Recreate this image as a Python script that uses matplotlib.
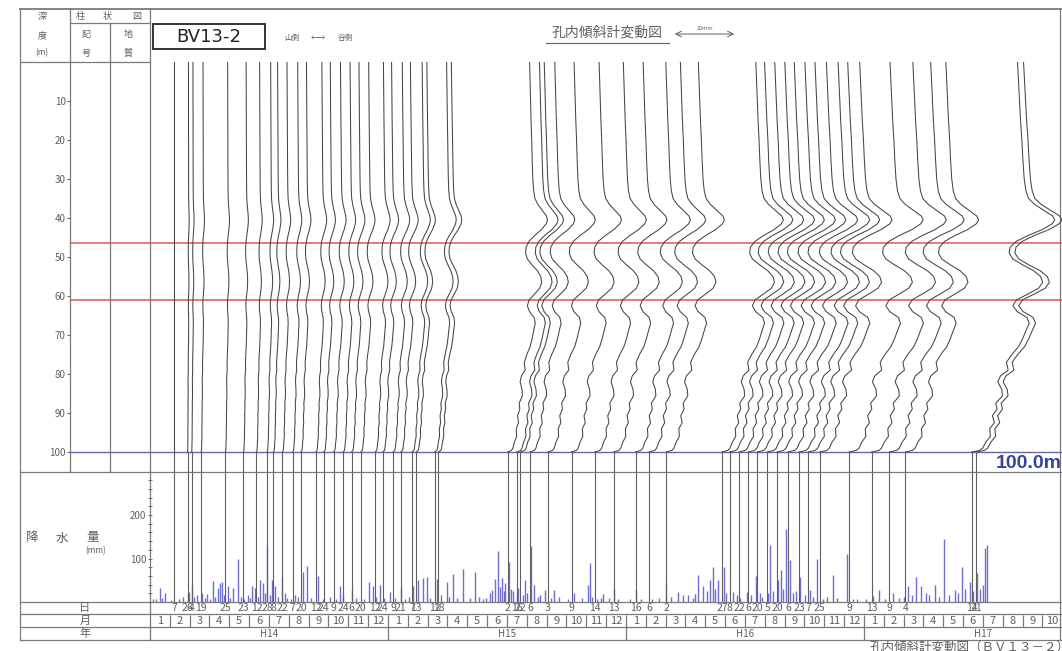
import calendar

import matplotlib
matplotlib.use("Agg")
import matplotlib.pyplot as plt
from matplotlib.patches import Rectangle
from matplotlib.ticker import MultipleLocator

plt.rcParams['font.family'] = ['Noto Sans CJK JP', 'DejaVu Sans']

# survey dates (Heisei year, month, day)
survey_dates = [
    (14, 2, 7), (14, 2, 26), (14, 3, 4), (14, 3, 19), (14, 4, 25), (14, 5, 23),
    (14, 6, 12), (14, 6, 28), (14, 7, 8), (14, 7, 22), (14, 8, 7), (14, 8, 20),
    (14, 9, 12), (14, 9, 24), (14, 10, 9), (14, 10, 24), (14, 11, 6), (14, 11, 20),
    (14, 12, 12), (14, 12, 24),
    (15, 1, 9), (15, 1, 21), (15, 2, 7), (15, 2, 13), (15, 3, 12), (15, 3, 18),
    (15, 7, 2), (15, 7, 16), (15, 7, 22), (15, 8, 6), (15, 9, 3), (15, 10, 9),
    (15, 11, 14), (15, 12, 13),
    (16, 1, 16), (16, 2, 6), (16, 3, 2), (16, 5, 27), (16, 6, 8), (16, 6, 22),
    (16, 7, 6), (16, 7, 20), (16, 8, 5), (16, 8, 20), (16, 9, 6), (16, 9, 23),
    (16, 10, 7), (16, 10, 25), (16, 12, 9),
    (17, 1, 13), (17, 2, 9), (17, 3, 4), (17, 6, 14), (17, 6, 21),
]
# deformation of each survey relative to the last one
survey_level = [
    0.0, 0.02, 0.03, 0.04, 0.05, 0.06, 0.07, 0.08, 0.09, 0.10, 0.11, 0.12,
    0.13, 0.14, 0.15, 0.15, 0.16, 0.17, 0.18, 0.19,
    0.20, 0.21, 0.22, 0.23, 0.26, 0.28,
    0.48, 0.50, 0.52, 0.54, 0.57, 0.60, 0.62, 0.64,
    0.66, 0.68, 0.70, 0.74, 0.76, 0.78, 0.80, 0.81, 0.82, 0.83, 0.84, 0.85,
    0.86, 0.87, 0.89,
    0.90, 0.90, 0.88, 1.0, 1.03,
]

# cumulative displacement of the latest survey (mm, valley side positive)
profile_depth = [0, 5, 10, 15, 20, 25, 30, 33, 35, 36.5, 38, 39.5, 40.5, 41.5,
                 43, 44.5, 46, 47.5, 49, 50.5, 52, 53.5, 55, 56.5, 58, 59.5,
                 61, 62.5, 64, 65.5, 67, 68.5, 71, 73, 75, 77, 79, 80.5, 82,
                 84, 85.6, 87.5, 89, 90.7, 92.5, 94, 96, 97.5, 99, 99.6, 100]
profile_disp = [13.7, 14.0, 14.3, 14.6, 15.0, 15.3, 15.7, 16.2, 17.0, 18.8,
                21.5, 24.2, 24.8, 24.0, 21.0, 16.8, 13.3, 11.5, 11.2, 12.3,
                15.2, 18.5, 20.6, 21.2, 20.0, 16.8, 13.4, 12.3, 13.6, 16.5,
                17.2, 16.4, 15.2, 14.0, 12.0, 10.4, 10.9, 8.6, 7.8, 9.0, 9.2,
                7.2, 7.6, 6.2, 6.8, 5.4, 5.6, 4.2, 3.3, 2.4, 0.0]

# daily rainfall (Heisei year, month, day, mm)
rainfall = [
    (14, 1, 5, 8), (14, 1, 10, 6), (14, 1, 16, 32), (14, 1, 20, 10),
    (14, 1, 25, 20), (14, 2, 3, 5), (14, 2, 14, 8), (14, 2, 20, 12),
    (14, 2, 26, 15), (14, 2, 28, 24), (14, 3, 4, 39), (14, 3, 8, 12),
    (14, 3, 12, 15), (14, 3, 21, 20), (14, 3, 25, 10), (14, 3, 28, 19),
    (14, 4, 2, 8), (14, 4, 6, 49), (14, 4, 10, 12), (14, 4, 14, 32),
    (14, 4, 17, 43), (14, 4, 20, 47), (14, 4, 23, 15), (14, 4, 29, 36),
    (14, 5, 2, 10), (14, 5, 7, 32), (14, 5, 14, 98), (14, 5, 19, 12),
    (14, 5, 24, 8), (14, 5, 30, 17), (14, 6, 2, 10), (14, 6, 5, 36),
    (14, 6, 10, 32), (14, 6, 14, 12), (14, 6, 17, 51), (14, 6, 22, 43),
    (14, 6, 25, 20), (14, 6, 28, 127), (14, 7, 2, 15), (14, 7, 5, 51),
    (14, 7, 10, 36), (14, 7, 15, 12), (14, 7, 21, 55), (14, 7, 26, 20),
    (14, 7, 29, 10), (14, 8, 4, 8), (14, 8, 10, 17), (14, 8, 15, 12),
    (14, 8, 23, 70), (14, 8, 29, 83), (14, 9, 5, 10), (14, 9, 15, 60),
    (14, 9, 22, 8), (14, 10, 4, 12), (14, 10, 12, 8), (14, 10, 19, 36),
    (14, 10, 23, 15), (14, 11, 6, 28), (14, 11, 12, 10), (14, 11, 25, 8),
    (14, 12, 2, 47), (14, 12, 8, 36), (14, 12, 14, 12), (14, 12, 19, 39),
    (14, 12, 26, 10),
    (15, 1, 4, 24), (15, 1, 12, 10), (15, 1, 22, 32), (15, 1, 28, 8),
    (15, 2, 3, 12), (15, 2, 8, 36), (15, 2, 15, 51), (15, 2, 22, 55),
    (15, 2, 28, 58), (15, 3, 5, 10), (15, 3, 15, 54), (15, 3, 22, 15),
    (15, 3, 31, 45), (15, 4, 4, 12), (15, 4, 10, 65), (15, 4, 16, 10),
    (15, 4, 24, 75), (15, 5, 5, 10), (15, 5, 13, 70), (15, 5, 20, 12),
    (15, 5, 25, 6), (15, 5, 31, 9), (15, 6, 5, 20), (15, 6, 9, 28),
    (15, 6, 13, 53), (15, 6, 17, 117), (15, 6, 20, 35), (15, 6, 23, 56),
    (15, 6, 26, 25), (15, 6, 28, 43), (15, 7, 4, 91), (15, 7, 8, 30),
    (15, 7, 11, 25), (15, 7, 16, 20), (15, 7, 19, 33), (15, 7, 26, 15),
    (15, 7, 29, 51), (15, 8, 2, 20), (15, 8, 7, 129), (15, 8, 13, 38),
    (15, 8, 18, 12), (15, 8, 22, 15), (15, 8, 29, 28), (15, 9, 8, 10),
    (15, 9, 12, 27), (15, 9, 20, 12), (15, 10, 3, 8), (15, 10, 13, 20),
    (15, 10, 25, 10), (15, 11, 3, 40), (15, 11, 6, 89), (15, 11, 10, 12),
    (15, 11, 18, 8), (15, 11, 23, 9), (15, 11, 27, 18), (15, 12, 6, 10),
    (15, 12, 13, 30), (15, 12, 20, 8),
    (16, 1, 8, 6), (16, 1, 16, 28), (16, 1, 25, 8), (16, 2, 10, 6),
    (16, 2, 20, 10), (16, 3, 1, 43), (16, 3, 10, 12), (16, 3, 20, 24),
    (16, 3, 28, 15), (16, 4, 5, 15), (16, 4, 12, 10), (16, 4, 16, 18),
    (16, 4, 20, 61), (16, 4, 27, 36), (16, 5, 3, 25), (16, 5, 8, 51),
    (16, 5, 13, 81), (16, 5, 17, 30), (16, 5, 21, 51), (16, 5, 31, 81),
    (16, 6, 3, 20), (16, 6, 13, 24), (16, 6, 19, 15), (16, 6, 24, 10),
    (16, 7, 5, 24), (16, 7, 10, 15), (16, 7, 19, 60), (16, 7, 25, 20),
    (16, 7, 28, 12), (16, 8, 6, 20), (16, 8, 9, 130), (16, 8, 14, 25),
    (16, 8, 21, 51), (16, 8, 27, 73), (16, 8, 30, 30), (16, 9, 3, 168),
    (16, 9, 9, 96), (16, 9, 14, 20), (16, 9, 18, 25), (16, 9, 24, 58),
    (16, 10, 2, 15), (16, 10, 9, 28), (16, 10, 14, 12), (16, 10, 21, 100),
    (16, 10, 30, 8), (16, 11, 5, 12), (16, 11, 14, 62), (16, 11, 20, 10),
    (16, 12, 5, 110), (16, 12, 15, 8), (16, 12, 22, 6),
    (17, 1, 5, 8), (17, 1, 15, 13), (17, 1, 25, 28), (17, 2, 3, 6),
    (17, 2, 14, 20), (17, 2, 22, 10), (17, 3, 2, 12), (17, 3, 8, 36),
    (17, 3, 14, 15), (17, 3, 21, 58), (17, 3, 29, 36), (17, 4, 5, 20),
    (17, 4, 10, 15), (17, 4, 18, 39), (17, 4, 25, 12), (17, 5, 3, 145),
    (17, 5, 10, 15), (17, 5, 19, 28), (17, 5, 24, 20), (17, 5, 31, 81),
    (17, 6, 4, 30), (17, 6, 11, 47), (17, 6, 16, 25), (17, 6, 22, 66),
    (17, 6, 27, 30), (17, 7, 1, 40), (17, 7, 4, 125), (17, 7, 7, 130),
]

year_labels = ['H14', 'H15', 'H16', 'H17']
depth_ticks = [10, 20, 30, 40, 50, 60, 70, 80, 90, 100]
slip_depths = [46.4, 61.0]
hole_depth = 100.0

W, H = 1062, 651
X0 = 150          # pixel column of January H14
MW = 19.83        # pixels per month
PX_MM = 3.35      # pixels per mm of displacement
GRAY = '#5f5f5f'
LINE = '#7a7a7a'


def month_pos(y, m, d):
    days = calendar.monthrange(1988 + y, m)[1]
    return (y - 14) * 12 + (m - 1) + (d - 1) / days


def rect(l, t, r, b):
    return [l / W, 1 - b / H, (r - l) / W, (b - t) / H]


fig = plt.figure(figsize=(W / 100, H / 100), dpi=100)

# page frame, table lines and fixed texts in pixel units
frame = fig.add_axes([0, 0, 1, 1])
frame.set_xlim(0, W)
frame.set_ylim(H, 0)
frame.axis('off')

def hline(y, x1, x2, **kw):
    frame.plot([x1, x2], [y, y], color=kw.pop('color', LINE), lw=kw.pop('lw', 0.9), **kw)

def vline(x, y1, y2, **kw):
    frame.plot([x, x], [y1, y2], color=kw.pop('color', LINE), lw=kw.pop('lw', 0.9), **kw)

hline(8.5, 20, W, lw=1.3)
hline(23, 70, 150)
hline(62, 20, 150)
hline(472, 20, W)
for y in (602, 614, 627, 640):
    hline(y, 20, W)
vline(20, 8.5, 640)
vline(70, 8.5, 472)
vline(110, 23, 472)
vline(150, 8.5, 640)
vline(1060, 8.5, 640)

txt = dict(color=GRAY, ha='center', va='center')
frame.text(42, 17, '深', fontsize=6.5, **txt)
frame.text(42, 36, '度', fontsize=6.5, **txt)
frame.text(42, 53, '(m)', fontsize=6, **txt)
for x, s in ((80, '柱'), (107, '状'), (137, '図')):
    frame.text(x, 16, s, fontsize=6.5, **txt)
frame.text(86, 35, '記', fontsize=6.5, **txt)
frame.text(86, 53, '号', fontsize=6.5, **txt)
frame.text(128, 35, '地', fontsize=6.5, **txt)
frame.text(128, 53, '質', fontsize=6.5, **txt)

frame.add_patch(Rectangle((153, 24), 112, 25, fill=False, ec='#333333', lw=1.4))
frame.text(209, 37, 'BV13-2', fontsize=13, color='#222222', ha='center',
           va='center', family=['DejaVu Sans'])
frame.text(292, 38, '山側', fontsize=5.5, **txt)
frame.text(318, 38, '←→', fontsize=5.5, **txt)
frame.text(345, 38, '谷側', fontsize=5.5, **txt)

frame.text(607, 33, '孔内傾斜計変動図', fontsize=10, **txt)
hline(43, 546, 669, color=GRAY, lw=0.8)
frame.annotate('', xy=(672, 34), xytext=(737, 34),
               arrowprops=dict(arrowstyle='<->', color=GRAY, lw=0.7))
frame.text(705, 29, '20mm', fontsize=4, **txt)

for x, s in ((32, '降'), (62, '水'), (93, '量')):
    frame.text(x, 538, s, fontsize=9, **txt)
frame.text(96, 551, '(mm)', fontsize=6, **txt)
frame.text(85, 608, '日', fontsize=8, **txt)
frame.text(85, 620.5, '月', fontsize=8, **txt)
frame.text(85, 633.5, '年', fontsize=8, **txt)

frame.text(996, 463, '100.0m', fontsize=14, color='#33449a', ha='left',
           va='center', fontweight='bold', family=['Liberation Sans', 'DejaVu Sans'])
frame.text(870, 647, '孔内傾斜計変動図（ＢＶ１３－２）', fontsize=9, color=GRAY,
           ha='left', va='center')

survey_x = [month_pos(*d) for d in survey_dates]

# inclinometer profiles
ax = fig.add_axes(rect(70, 62, W, 472))
ax.set_facecolor('none')
ax.set_xlim((70 - X0) / MW, (W - X0) / MW)
ax.set_ylim((472 - 62) / 3.9, 0)
for s in ax.spines.values():
    s.set_visible(False)
ax.set_xticks([])
ax.set_yticks(depth_ticks)
ax.set_yticklabels([str(t) for t in depth_ticks])
ax.tick_params(axis='y', length=2.5, width=0.7, color=GRAY, labelcolor=GRAY,
               labelsize=7, pad=0.5)

for d in slip_depths:
    ax.axhline(d, color='#e05555', lw=1.1, zorder=1)
ax.axhline(hole_depth, color='#6666aa', lw=1.0, zorder=1)

scale = PX_MM / MW
for x0, lv in zip(survey_x, survey_level):
    xs = [x0 + lv * v * scale for v in profile_disp]
    ax.plot(xs, profile_depth, color='#454545', lw=0.75, zorder=3)
    ax.plot([x0, x0], [hole_depth, ax.get_ylim()[0]], color=GRAY, lw=0.8, zorder=3)

# daily rainfall
axp = fig.add_axes(rect(X0, 472, W, 602))
axp.set_facecolor('none')
axp.set_xlim(0, (W - X0) / MW)
axp.set_ylim(0, 299)
for s in axp.spines.values():
    s.set_visible(False)
axp.set_xticks([])
axp.set_yticks([100, 200])
axp.yaxis.set_minor_locator(MultipleLocator(20))
axp.tick_params(axis='y', which='both', direction='inout', length=3, width=0.6,
                color=GRAY, labelcolor=GRAY, labelsize=7, pad=1)
rx = [month_pos(y, m, d) for y, m, d, _ in rainfall]
rv = [r[3] for r in rainfall]
axp.vlines(rx, 0, rv, color='#6e6ecf', lw=1.0, zorder=2)
axp.vlines(survey_x, 0, 299, color=GRAY, lw=0.8, zorder=3)

# calendar rows: day / month / year
axb = fig.add_axes(rect(X0, 602, W, 640))
axb.set_facecolor('none')
axb.set_xlim(0, (W - X0) / MW)
axb.set_ylim(3, 0)
axb.axis('off')
for x, (y, m, d) in zip(survey_x, survey_dates):
    axb.text(x, 0.5, str(d), fontsize=7.5, color=GRAY, ha='center', va='center')
n_months = 46
for k in range(n_months):
    axb.text(k + 0.5, 1.5, str(k % 12 + 1), fontsize=8, color=GRAY,
             ha='center', va='center')
axb.vlines(range(1, n_months + 1), 1, 2, color=LINE, lw=0.9)
axb.vlines([12, 24, 36], 2, 3, color=LINE, lw=0.9)
for i, s in enumerate(year_labels):
    axb.text(12 * i + 6, 2.5, s, fontsize=7, color=GRAY, ha='center', va='center')

fig.savefig('out.png', dpi=100)
